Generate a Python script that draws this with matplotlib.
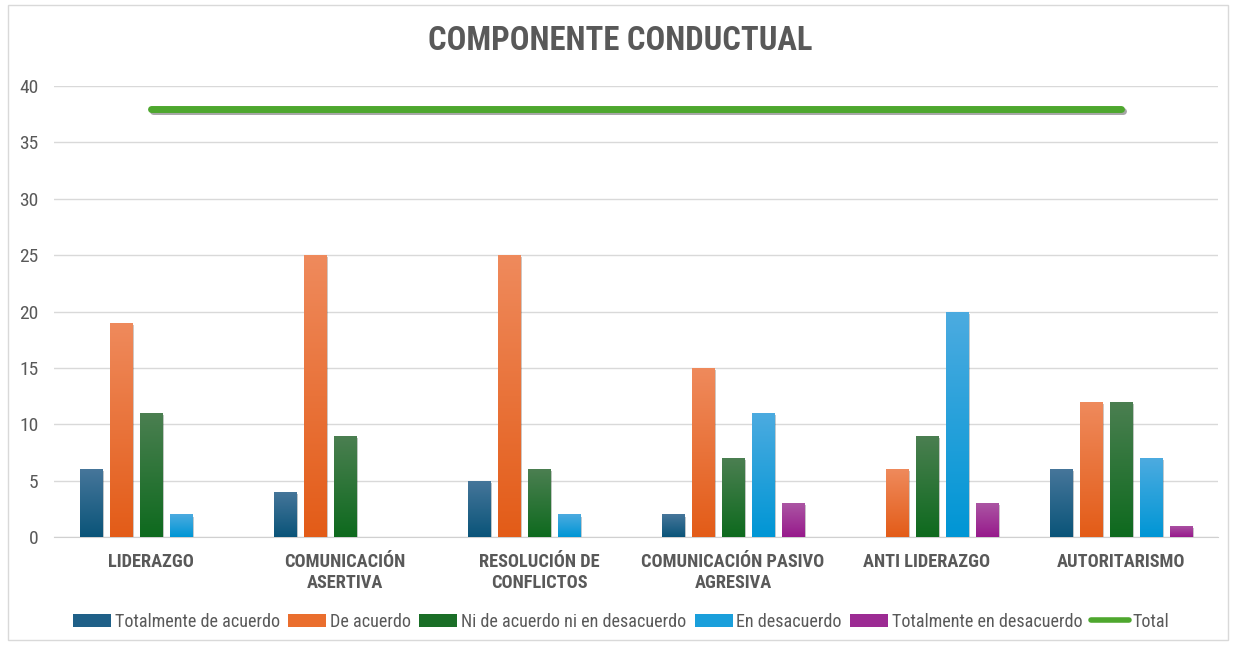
import numpy as np
import matplotlib.pyplot as plt
import matplotlib.patheffects as pe
from matplotlib.colors import LinearSegmentedColormap
from matplotlib.patches import Rectangle, Patch
from matplotlib.lines import Line2D

# --- Datos ---
categorias = ['LIDERAZGO', 'COMUNICACIÓN\nASERTIVA', 'RESOLUCIÓN DE\nCONFLICTOS',
              'COMUNICACIÓN PASIVO\nAGRESIVA', 'ANTI LIDERAZGO', 'AUTORITARISMO']
series = ['Totalmente de acuerdo', 'De acuerdo', 'Ni de acuerdo ni en desacuerdo',
          'En desacuerdo', 'Totalmente en desacuerdo']
tot_acuerdo = [6, 4, 5, 2, 0, 6]
de_acuerdo = [19, 25, 25, 15, 6, 12]
ni_ni = [11, 9, 6, 7, 9, 12]
en_desacuerdo = [2, 0, 2, 11, 20, 7]
tot_desacuerdo = [0, 0, 0, 3, 3, 1]
total = [38, 38, 38, 38, 38, 38]

valores = [tot_acuerdo, de_acuerdo, ni_ni, en_desacuerdo, tot_desacuerdo]
# (arriba, abajo) para el degradado
colores = [('#46769a', '#0a5479'), ('#ef8a5c', '#e35c18'), ('#4b7f51', '#0e6a1e'),
           ('#4cabe0', '#0096d5'), ('#ab55a3', '#971a8c')]
color_leyenda = ['#1f6088', '#ea6e2e', '#1a6e27', '#1a9fdb', '#9c2b93']
verde_total = '#4ea72e'

plt.rcParams['font.family'] = ['Roboto Condensed', 'Liberation Sans Narrow', 'DejaVu Sans']
plt.rcParams['font.stretch'] = 'condensed'
gris = '#595959'

fig = plt.figure(figsize=(12.35, 6.47), dpi=100)
ax = fig.add_axes([0.0437, 0.170, 0.9425, 0.697])

x = np.arange(len(categorias))
ancho = 0.115
paso = 0.155
for i, (vals, (c_top, c_bot)) in enumerate(zip(valores, colores)):
    cmap = LinearSegmentedColormap.from_list('g%d' % i, [c_bot, c_top])
    grad = np.linspace(0, 1, 100).reshape(-1, 1)
    barras = ax.bar(x + (i - 2) * paso, vals, width=ancho, color=c_bot, zorder=2,
                    path_effects=[pe.SimplePatchShadow(offset=(1.5, -1.5), alpha=0.25), pe.Normal()])
    for b in barras:
        h = b.get_height()
        if h <= 0:
            continue
        im = ax.imshow(grad, cmap=cmap, origin='lower', aspect='auto', zorder=3,
                       extent=[b.get_x(), b.get_x() + b.get_width(), 0, h])
        im.set_clip_path(b)

ax.plot(x, total, color=verde_total, lw=5, solid_capstyle='round', zorder=4,
        path_effects=[pe.SimpleLineShadow(offset=(1.5, -2), alpha=0.35), pe.Normal()])

ax.set_xlim(-0.5, len(categorias) - 0.5)
ax.set_ylim(0, 40)
ax.set_yticks(range(0, 41, 5))
ax.yaxis.grid(True, color='#d9d9d9', lw=1)
ax.set_axisbelow(True)
for s in ['top', 'right', 'left']:
    ax.spines[s].set_visible(False)
ax.spines['bottom'].set_color('#d0d0d0')
ax.tick_params(axis='y', length=0, pad=11, labelsize=14, labelcolor=gris)
ax.tick_params(axis='x', length=0, pad=11.5, labelcolor=gris)
ax.set_xticks(x)
ax.set_xticklabels(categorias, fontsize=13.2, fontweight='bold', linespacing=1.2)

fig.text(0.502, 0.937, 'COMPONENTE CONDUCTUAL', ha='center', va='center',
         fontsize=23.5, fontweight='bold', color=gris)

handles = [Patch(facecolor=c, edgecolor='none') for c in color_leyenda]
handles.append(Line2D([0], [0], color=verde_total, lw=4, solid_capstyle='round'))
fig.legend(handles, series + ['Total'], loc='center', bbox_to_anchor=(0.503, 0.039),
           ncol=6, frameon=False, fontsize=13.1, labelcolor=gris, handlelength=2.1,
           handleheight=0.7, handletextpad=0.2, columnspacing=0.45)

fig.add_artist(Rectangle((0.0065, 0.011), 0.988, 0.981, transform=fig.transFigure,
                         fill=False, edgecolor='#d9d9d9', lw=1))

fig.savefig('out.png', dpi=100)
